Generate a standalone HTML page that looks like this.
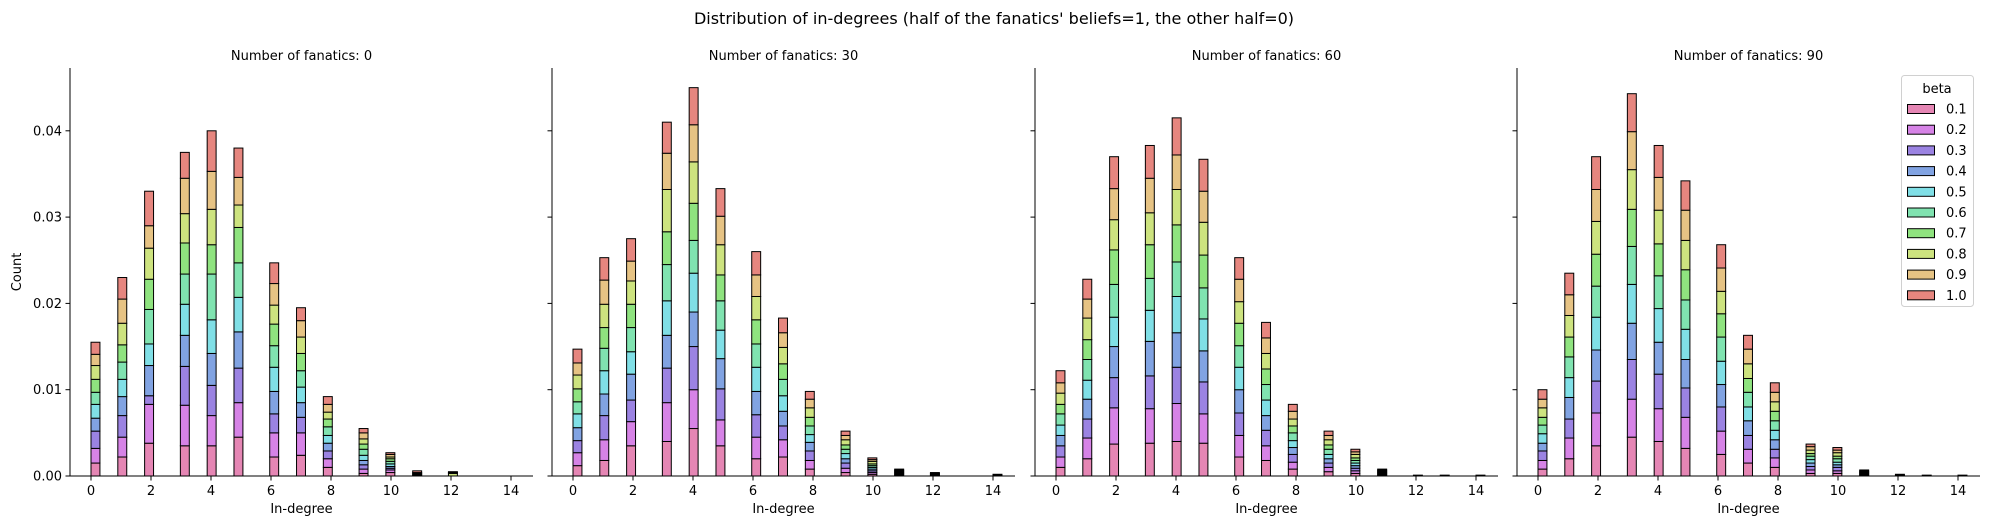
<!DOCTYPE html>
<html><head><meta charset="utf-8"><style>
body{margin:0;background:#fff}
svg{display:block;font-family:"DejaVu Sans","Liberation Sans",sans-serif}
</style></head><body>
<svg id="chart" width="1989" height="529" xmlns="http://www.w3.org/2000/svg">
<rect width="1989" height="529" fill="#fff"/>
<text x="994" y="24" font-size="16" text-anchor="middle" fill="#000">Distribution of in-degrees (half of the fanatics' beliefs=1, the other half=0)</text>
<text transform="translate(21,272) rotate(-90)" font-size="13" text-anchor="middle">Count</text>
<g id="panels"></g>
<g id="legend"></g>
</svg>
<script>
const betas = ["0.1","0.2","0.3","0.4","0.5","0.6","0.7","0.8","0.9","1.0"];
const colors = ["#e586b4","#d683e6","#9b83e2","#81a3e2","#80dfe6","#80e3b0","#8fe37f","#cde37f","#e6c384","#e6867f"];
const fanatics = [0,30,60,90];
const inDegrees = [0,1,2,3,4,5,6,7,8,9,10,11,12,13,14];
const yTicks = [0,0.01,0.02,0.03,0.04];
const yTickLabels = ["0.00","0.01","0.02","0.03","0.04"];
const xTicks = [0,2,4,6,8,10,12,14];
// values in units of 1e-4, rows = beta 0.1..1.0, columns = in-degree 0..14
const panel0 = [
[15,22,38,35,35,45,22,24,10,3,4,0,0,0,0],
[17,23,45,47,35,40,28,26,10,5,3,0,0,0,0],
[20,25,10,45,35,40,22,18,9,5,2,0,0,0,0],
[15,22,35,36,37,42,26,17,9,5,2,1,0,0,0],
[16,20,25,36,39,40,28,18,9,6,3,0,0,0,0],
[14,20,40,35,53,40,25,19,10,7,3,1,0,0,0],
[15,20,35,36,34,41,25,20,9,6,3,1,0,0,0],
[16,25,36,34,41,26,22,19,8,6,2,1,3,0,0],
[13,28,26,41,44,32,25,19,9,7,3,0,1,0,0],
[14,25,40,30,47,34,24,15,9,5,2,2,1,0,0]];
const panel30 = [
[12,18,35,40,55,35,20,22,8,4,2,0,0,0,0],
[15,24,28,45,45,30,25,20,10,5,2,1,0,0,0],
[14,28,25,40,50,36,26,16,11,6,2,1,0,0,0],
[15,25,30,38,40,35,27,17,10,5,2,1,1,0,0],
[16,27,26,40,45,33,28,18,9,6,2,1,0,0,0],
[14,26,28,42,38,34,27,19,10,5,2,1,1,0,0],
[15,24,27,38,43,30,28,18,10,5,2,1,0,0,1],
[16,27,27,49,48,35,27,19,11,6,3,1,1,0,0],
[14,28,23,42,43,33,25,17,10,5,2,0,1,0,1],
[16,26,26,36,43,32,27,17,9,5,2,1,0,0,0]];
const panel60 = [
[10,20,37,38,40,38,22,18,8,5,3,1,0,0,0],
[12,24,42,40,44,34,25,17,8,5,3,1,0,0,0],
[13,22,35,38,42,37,26,18,9,5,3,1,0,0,0],
[12,23,36,40,40,36,27,17,8,5,3,1,0,0,0],
[12,22,34,36,42,37,26,18,8,5,3,1,0,0,0],
[13,24,38,37,40,36,25,18,9,6,3,1,0,0,0],
[11,23,40,39,43,38,26,18,8,5,3,1,0,0,0],
[13,25,35,37,41,38,25,18,8,6,4,1,0,0,0],
[12,22,36,40,40,36,26,18,9,5,3,0,0,1,0],
[14,23,37,38,43,37,25,18,8,5,3,0,1,0,1]];
const panel90 = [
[8,20,35,45,40,32,25,15,10,3,3,1,0,0,0],
[10,24,38,44,38,36,27,16,11,4,3,1,0,0,0],
[11,22,37,46,40,34,28,16,10,4,4,1,0,0,0],
[9,25,36,42,37,33,26,17,11,4,3,1,0,0,0],
[11,23,38,45,39,35,27,16,11,4,3,0,0,0,0],
[10,24,36,44,38,34,28,17,11,4,4,1,0,0,0],
[9,23,37,43,37,35,27,16,11,3,3,1,0,0,0],
[11,25,38,46,39,34,26,17,11,4,4,0,1,0,0],
[10,24,37,44,38,35,27,17,11,4,3,1,0,1,0],
[11,25,38,44,37,34,27,16,11,3,3,0,1,0,1]];
const panelData = [panel0,panel30,panel60,panel90];

const NS="http://www.w3.org/2000/svg";
const spineX=[70,552,1035,1517];
const axW=463, yTop=68, yBase=476;
const binW=14/47;
function yScale(v){return yBase - v*8630;}
function xScale(p,v){return spineX[p]+21+v*30;}
function mk(tag,attrs,parent){const e=document.createElementNS(NS,tag);for(const k in attrs)e.setAttribute(k,attrs[k]);parent.appendChild(e);return e;}
const root=document.getElementById('panels');
panelData.forEach((data,p)=>{
  const g=mk('g',{},root);
  
  
  const t=mk('text',{x:spineX[p]+axW/2,y:60,'font-size':13,'text-anchor':'middle'},g);
  
  
  t.textContent='Number of fanatics: '+fanatics[p];
  inDegrees.forEach((d,i)=>{
    const b=Math.floor(d/binW+1e-9)*binW;
    const x0=xScale(p,b), x1=xScale(p,b+binW);
    let cum=0;
    for(let k=0;k<betas.length;k++){
      const v=data[k][i]*1e-4;
      if(v<=0)continue;
      const ya=yScale(cum), yb=yScale(cum+v);
      const r=mk('rect',{x:x0,y:yb,width:x1-x0,height:ya-yb,fill:colors[k],stroke:'#000','stroke-width':1},g);
      
      
      cum+=v;
    }
  });
  const sp=mk('line',{x1:spineX[p],x2:spineX[p],y1:yTop,y2:yBase,stroke:'#000','stroke-width':1},g);
  
  
  const sx=mk('line',{x1:spineX[p],x2:spineX[p]+axW,y1:yBase,y2:yBase,stroke:'#000','stroke-width':1},g);
  
  
  yTicks.forEach((v,j)=>{
    const y=yScale(v);
    mk('line',{x1:spineX[p]-4.5,x2:spineX[p],y1:y,y2:y,stroke:'#000','stroke-width':1},g);
    if(p===0){
      const tl=mk('text',{x:spineX[p]-8,y:y+4.5,'font-size':13,'text-anchor':'end'},g);
      
      
      tl.textContent=yTickLabels[j];
    }
  });
  xTicks.forEach(v=>{
    const x=xScale(p,v);
    mk('line',{x1:x,x2:x,y1:yBase,y2:yBase+4.5,stroke:'#000','stroke-width':1},g);
    const tl=mk('text',{x:x,y:yBase+19,'font-size':13,'text-anchor':'middle'},g);
    
    
    tl.textContent=v;
  });
  const xl=mk('text',{x:spineX[p]+axW/2,y:513,'font-size':13,'text-anchor':'middle'},g);
  
  
  xl.textContent='In-degree';
});
const lg=document.getElementById('legend');
mk('rect',{x:1901.5,y:75.5,width:72,height:231,rx:3,fill:'#fff',stroke:'#d0d0d0','stroke-width':1},lg);
const lt=mk('text',{x:1937,y:93,'font-size':13,'text-anchor':'middle'},lg);


lt.textContent='beta';
betas.forEach((b,k)=>{
  const cy=109+k*20.7;
  const e=mk('g',{},lg);
  
  
  mk('rect',{x:1907.5,y:cy-4.5,width:27,height:9,fill:colors[k],stroke:'#000','stroke-width':1},e);
  const tx=mk('text',{x:1946,y:cy+4.5,'font-size':13},e);
  tx.textContent=b;
});
</script>
</body></html>
